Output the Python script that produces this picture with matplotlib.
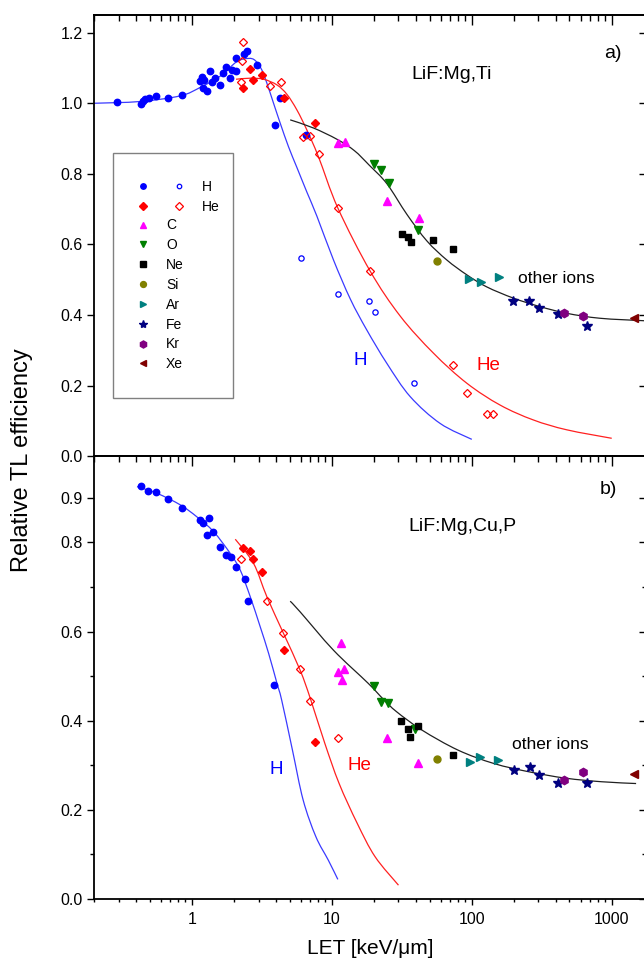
import matplotlib
matplotlib.use("Agg")
import numpy as np
import matplotlib.pyplot as plt
from matplotlib.patches import Rectangle, PathPatch
from matplotlib.path import Path
from matplotlib.legend_handler import HandlerTuple
from matplotlib.ticker import FuncFormatter, NullFormatter, FixedLocator

plt.rcParams['font.family'] = ['Liberation Sans', 'DejaVu Sans']

# ---------------- panel a) LiF:Mg,Ti ----------------
a_H_fill_x = [0.292, 0.436, 0.448, 0.466, 0.491, 0.557, 0.672, 0.851, 1.137, 1.183, 1.228, 1.194,
              1.284, 1.356, 1.394, 1.472, 1.580, 1.670, 1.755, 1.884, 1.937, 2.080, 2.069, 2.371,
              2.479, 2.923, 4.289, 3.902, 6.57]
a_H_fill_y = [1.003, 0.999, 1.005, 1.011, 1.016, 1.020, 1.016, 1.022, 1.063, 1.075, 1.066, 1.042,
              1.035, 1.090, 1.061, 1.071, 1.052, 1.085, 1.102, 1.071, 1.094, 1.090, 1.127, 1.139,
              1.149, 1.108, 1.016, 0.939, 0.910]
a_H_open_x = [6.03, 11.0, 18.4, 20.5, 38.8]
a_H_open_y = [0.563, 0.460, 0.440, 0.410, 0.208]
a_He_fill_x = [2.306, 2.617, 2.736, 3.172, 4.526, 7.62]
a_He_fill_y = [1.044, 1.097, 1.066, 1.080, 1.016, 0.945]
a_He_open_x = [2.322, 2.269, 2.257, 3.635, 4.358, 6.23, 6.94, 8.05, 11.07, 18.8, 73.4, 92.4, 128.4, 141.6]
a_He_open_y = [1.173, 1.121, 1.061, 1.049, 1.061, 0.905, 0.908, 0.856, 0.703, 0.525, 0.259, 0.180, 0.119, 0.119]
a_C_x = [11.07, 12.5, 25.0, 42.2]
a_C_y = [0.888, 0.891, 0.723, 0.676]
a_O_x = [19.9, 22.5, 25.6, 41.7]
a_O_y = [0.828, 0.811, 0.773, 0.641]
a_Ne_x = [31.7, 35.0, 36.8, 52.8, 74.1]
a_Ne_y = [0.630, 0.622, 0.608, 0.613, 0.586]
a_Si_x = [57.0]
a_Si_y = [0.553]
a_Ar_x = [96.4, 116.3, 157.1]
a_Ar_y = [0.501, 0.495, 0.509]
a_Fe_x = [199, 259, 304, 413, 665]
a_Fe_y = [0.440, 0.440, 0.419, 0.402, 0.370]
a_Kr_x = [458, 623]
a_Kr_y = [0.407, 0.398]
a_Xe_x = [1455]
a_Xe_y = [0.391]

a_fitH_x = [0.2, 0.429, 0.828, 1.150, 1.599, 2.10, 2.546, 2.842, 3.17, 3.44, 3.84, 4.29, 4.91,
            5.64, 6.65, 7.84, 10.3, 13.6, 17.8, 24.8, 36.4, 59.6, 100.3]
a_fitH_y = [1.000, 1.005, 1.021, 1.045, 1.077, 1.118, 1.127, 1.121, 1.094, 1.057, 1.000, 0.943, 0.877,
            0.818, 0.748, 0.680, 0.556, 0.445, 0.358, 0.263, 0.169, 0.093, 0.048]
a_fitHe_x = [2.07, 2.62, 3.26, 4.06, 4.79, 5.64, 6.65, 8.05, 11.07, 18.8, 30.9, 53.4, 92.4, 160, 276, 479, 1003]
a_fitHe_y = [1.068, 1.071, 1.068, 1.052, 1.025, 0.981, 0.924, 0.848, 0.703, 0.525, 0.397, 0.292, 0.207,
             0.145, 0.103, 0.075, 0.051]
a_fitIon_x = [5.05, 7.4, 10.9, 14.5, 18.5, 24.8, 34.5, 47.9, 66.5, 92.4, 128, 199, 308, 479, 827, 1708]
a_fitIon_y = [0.953, 0.930, 0.898, 0.866, 0.825, 0.772, 0.685, 0.610, 0.556, 0.514, 0.480, 0.448,
              0.424, 0.405, 0.391, 0.384]

# ---------------- panel b) LiF:Mg,Cu,P ----------------
b_H_fill_x = [0.436, 0.489, 0.557, 0.672, 0.851, 1.137, 1.194, 1.333, 1.408, 1.284, 1.580, 1.755,
              1.905, 2.069, 2.41, 2.52, 3.90]
b_H_fill_y = [0.926, 0.915, 0.913, 0.898, 0.878, 0.850, 0.843, 0.854, 0.823, 0.816, 0.789, 0.771,
              0.768, 0.745, 0.717, 0.668, 0.480]
b_He_fill_x = [2.306, 2.617, 2.736, 3.172, 4.526, 7.56]
b_He_fill_y = [0.788, 0.781, 0.762, 0.734, 0.558, 0.353]
b_He_open_x = [2.257, 3.44, 4.45, 5.89, 7.05, 11.06]
b_He_open_y = [0.762, 0.669, 0.597, 0.517, 0.445, 0.362]
b_C_x = [11.6, 11.07, 12.3, 11.8, 24.8, 41.6]
b_C_y = [0.575, 0.510, 0.515, 0.491, 0.362, 0.306]
b_O_x = [19.9, 22.5, 25.4, 39.2]
b_O_y = [0.478, 0.441, 0.439, 0.382]
b_Ne_x = [31.5, 35.3, 36.5, 41.1, 73.8]
b_Ne_y = [0.400, 0.382, 0.363, 0.388, 0.324]
b_Si_x = [56.9]
b_Si_y = [0.313]
b_Ar_x = [96.9, 115, 155]
b_Ar_y = [0.308, 0.319, 0.312]
b_Fe_x = [202, 260, 305, 413, 663]
b_Fe_y = [0.289, 0.296, 0.278, 0.261, 0.261]
b_Kr_x = [456, 625]
b_Kr_y = [0.267, 0.285]
b_Xe_x = [1448]
b_Xe_y = [0.280]

b_fitH_x = [0.406, 0.564, 0.828, 1.089, 1.431, 1.884, 2.218, 2.617, 3.08, 3.54, 4.06, 4.39, 5.24,
            6.25, 7.70, 9.46, 11.06]
b_fitH_y = [0.925, 0.910, 0.884, 0.857, 0.824, 0.775, 0.738, 0.678, 0.611, 0.551, 0.484, 0.446, 0.334,
            0.222, 0.140, 0.087, 0.044]
b_fitHe_x = [2.045, 2.76, 3.44, 4.52, 5.95, 7.03, 8.93, 11.3, 15.2, 20.4, 30.0]
b_fitHe_y = [0.807, 0.753, 0.678, 0.596, 0.513, 0.450, 0.349, 0.259, 0.170, 0.095, 0.031]
b_fitIon_x = [5.05, 5.95, 10.3, 18.2, 23.4, 29.1, 44.1, 79.9, 144, 260, 470, 851, 1498]
b_fitIon_y = [0.668, 0.644, 0.558, 0.484, 0.448, 0.420, 0.379, 0.334, 0.304, 0.285, 0.271, 0.263, 0.259]

x_major = [1, 10, 100, 1000]
a_yticks = [0.0, 0.2, 0.4, 0.6, 0.8, 1.0, 1.2]
b_yticks = [0.0, 0.2, 0.4, 0.6, 0.8, 0.9]
b_yminor = [0.1, 0.3, 0.5, 0.7]

ion_labels = ['C', 'O', 'Ne', 'Si', 'Ar', 'Fe', 'Kr', 'Xe']

# ---------------- styles ----------------
BLUE = '#0000ff'
RED = '#ff0000'
style = {
    'C': dict(marker='^', color='#ff00ff', ms=5.5),
    'O': dict(marker='v', color='#007f00', ms=5.5),
    'Ne': dict(marker='s', color='#000000', ms=4.3),
    'Si': dict(marker='o', color='#808000', ms=5.0),
    'Ar': dict(marker='>', color='#008080', ms=5.5),
    'Fe': dict(marker='*', color='#000080', ms=7.0),
    'Kr': dict(marker='h', color='#800080', ms=6.0),
    'Xe': dict(marker='<', color='#800000', ms=5.5),
}

W, H = 644, 969
fig = plt.figure(figsize=(W / 100, H / 100), dpi=100)
ax_a = fig.add_axes([94 / W, (H - 456.3) / H, 552 / W, 441.3 / H])
ax_b = fig.add_axes([94 / W, (H - 899) / H, 552 / W, 442.7 / H])

SP_LW = 1.3
TICKFS = 11.5


def smooth_curve(ax, xs, ys, **kw):
    """Draw a fitted curve through the read points as a smooth Bezier path
    (Catmull-Rom control points in log-x space; the axes scale does the mapping)."""
    u = np.log10(np.asarray(xs, float))
    v = np.asarray(ys, float)
    P = np.column_stack([u, v])
    Pe = np.vstack([P[0], P, P[-1]])
    verts = [P[0]]
    codes = [Path.MOVETO]
    for i in range(len(P) - 1):
        p0, p1, p2, p3 = Pe[i], Pe[i + 1], Pe[i + 2], Pe[i + 3]
        verts += [p1 + (p2 - p0) / 6.0, p2 - (p3 - p1) / 6.0, p2]
        codes += [Path.CURVE4] * 3
    verts = np.array(verts)
    verts[:, 0] = 10 ** verts[:, 0]
    ax.add_patch(PathPatch(Path(verts, codes), fill=False, transform=ax.transData, **kw))


def style_axes(ax, yticks, yminor, ylim, bottom_labels):
    ax.set_xscale('log')
    ax.set_xlim(0.2, 1763)
    ax.set_ylim(*ylim)
    for s in ax.spines.values():
        s.set_linewidth(SP_LW)
    ax.xaxis.set_major_locator(FixedLocator(x_major))
    ax.xaxis.set_major_formatter(FuncFormatter(lambda v, p: f'{v:g}'))
    ax.xaxis.set_minor_formatter(NullFormatter())
    ax.set_yticks(yticks)
    ax.set_yticks(yminor, minor=True)
    ax.yaxis.set_major_formatter(FuncFormatter(lambda v, p: f'{v:.1f}'))
    ax.tick_params(axis='y', which='major', direction='out', length=5, width=1.0,
                   labelsize=TICKFS, pad=3, right=False)
    ax.tick_params(axis='y', which='minor', direction='out', length=3, width=1.0, right=False)
    secy = ax.secondary_yaxis('right')
    secy.set_yticks(yticks)
    secy.set_yticks(yminor, minor=True)
    secy.tick_params(axis='y', which='major', direction='in', length=5, width=1.0, labelright=False)
    secy.tick_params(axis='y', which='minor', direction='in', length=3, width=1.0)
    secy.spines['right'].set_linewidth(SP_LW)
    if bottom_labels:
        ax.tick_params(axis='x', which='major', direction='out', length=4, width=1.0,
                       labelsize=TICKFS, pad=5, top=False)
        ax.tick_params(axis='x', which='minor', direction='out', length=2.2, width=1.0, top=False)
    else:
        ax.tick_params(axis='x', which='both', bottom=False, labelbottom=False, top=False)
    secx = ax.secondary_xaxis('top')
    secx.xaxis.set_major_locator(FixedLocator(x_major))
    secx.xaxis.set_major_formatter(NullFormatter())
    secx.xaxis.set_minor_formatter(NullFormatter())
    secx.tick_params(axis='x', which='major', direction='in', length=7, width=1.0, labeltop=False)
    secx.tick_params(axis='x', which='minor', direction='in', length=4, width=1.0)
    secx.spines['top'].set_linewidth(SP_LW)


def draw_panel(ax, d):
    smooth_curve(ax, *d['fitH'], edgecolor='#3a3aff', lw=0.9, zorder=2)
    smooth_curve(ax, *d['fitHe'], edgecolor='#ff2020', lw=0.9, zorder=2)
    smooth_curve(ax, *d['fitIon'], edgecolor='#202020', lw=0.9, zorder=2)
    h = {}
    h['Hf'], = ax.plot(d['Hf'][0], d['Hf'][1], ls='none', marker='o', color=BLUE, ms=4.6, zorder=3)
    h['Ho'], = ax.plot(d['Ho'][0], d['Ho'][1], ls='none', marker='o', mfc='none', mec=BLUE,
                       ms=3.8, mew=0.9, zorder=3)
    h['Hef'], = ax.plot(d['Hef'][0], d['Hef'][1], ls='none', marker='D', color=RED, ms=4.3, zorder=3)
    h['Heo'], = ax.plot(d['Heo'][0], d['Heo'][1], ls='none', marker='D', mfc='none', mec=RED,
                        ms=4.3, mew=0.9, zorder=3)
    for k in ion_labels:
        h[k], = ax.plot(d[k][0], d[k][1], ls='none', zorder=3, **style[k])
    return h


data_a = {'fitH': (a_fitH_x, a_fitH_y), 'fitHe': (a_fitHe_x, a_fitHe_y), 'fitIon': (a_fitIon_x, a_fitIon_y),
          'Hf': (a_H_fill_x, a_H_fill_y), 'Ho': (a_H_open_x, a_H_open_y),
          'Hef': (a_He_fill_x, a_He_fill_y), 'Heo': (a_He_open_x, a_He_open_y),
          'C': (a_C_x, a_C_y), 'O': (a_O_x, a_O_y), 'Ne': (a_Ne_x, a_Ne_y), 'Si': (a_Si_x, a_Si_y),
          'Ar': (a_Ar_x, a_Ar_y), 'Fe': (a_Fe_x, a_Fe_y), 'Kr': (a_Kr_x, a_Kr_y), 'Xe': (a_Xe_x, a_Xe_y)}
data_b = {'fitH': (b_fitH_x, b_fitH_y), 'fitHe': (b_fitHe_x, b_fitHe_y), 'fitIon': (b_fitIon_x, b_fitIon_y),
          'Hf': (b_H_fill_x, b_H_fill_y), 'Ho': ([], []),
          'Hef': (b_He_fill_x, b_He_fill_y), 'Heo': (b_He_open_x, b_He_open_y),
          'C': (b_C_x, b_C_y), 'O': (b_O_x, b_O_y), 'Ne': (b_Ne_x, b_Ne_y), 'Si': (b_Si_x, b_Si_y),
          'Ar': (b_Ar_x, b_Ar_y), 'Fe': (b_Fe_x, b_Fe_y), 'Kr': (b_Kr_x, b_Kr_y), 'Xe': (b_Xe_x, b_Xe_y)}

style_axes(ax_a, a_yticks, [], (0, 1.25), False)
style_axes(ax_b, b_yticks, b_yminor, (0, 0.993), True)
ha = draw_panel(ax_a, data_a)
draw_panel(ax_b, data_b)

# ---------------- legend (panel a) ----------------
LEG_FS = 10
ax_a.add_patch(Rectangle((0.035, 0.1314), 0.2174, 0.5565, transform=ax_a.transAxes,
                         facecolor='white', edgecolor='#808080', lw=1.0, zorder=1.5))
common = dict(loc='center left', frameon=False, borderpad=0, borderaxespad=0,
              handletextpad=0.35, labelspacing=0.42, fontsize=LEG_FS, markerscale=0.85)
leg1 = ax_a.legend(handles=[(ha['Hf'], ha['Ho']), (ha['Hef'], ha['Heo'])], labels=['H', 'He'],
                   handler_map={tuple: HandlerTuple(ndivide=None, pad=0)},
                   bbox_to_anchor=(0.0571, 0.588), handlelength=5.14, **common)
ax_a.add_artist(leg1)
ax_a.legend(handles=[ha[k] for k in ion_labels], labels=ion_labels,
            bbox_to_anchor=(0.0571, 0.3657), handlelength=2.57, **common)

# ---------------- annotations ----------------
ax_a.text(0.9408, 0.9132, 'a)', transform=ax_a.transAxes, fontsize=14, ha='center', va='center')
ax_a.text(0.648, 0.866, 'LiF:Mg,Ti', transform=ax_a.transAxes, fontsize=14, ha='center', va='center')
ax_a.text(0.838, 0.403, 'other ions', transform=ax_a.transAxes, fontsize=12.5, ha='center', va='center')
ax_a.text(0.482, 0.218, 'H', transform=ax_a.transAxes, fontsize=13.5, color=BLUE, ha='center', va='center')
ax_a.text(0.714, 0.205, 'He', transform=ax_a.transAxes, fontsize=13.5, color=RED, ha='center', va='center')

ax_b.text(0.932, 0.925, 'b)', transform=ax_b.transAxes, fontsize=14, ha='center', va='center')
ax_b.text(0.668, 0.842, 'LiF:Mg,Cu,P', transform=ax_b.transAxes, fontsize=14, ha='center', va='center')
ax_b.text(0.827, 0.350, 'other ions', transform=ax_b.transAxes, fontsize=12.5, ha='center', va='center')
ax_b.text(0.330, 0.293, 'H', transform=ax_b.transAxes, fontsize=13.5, color=BLUE, ha='center', va='center')
ax_b.text(0.480, 0.301, 'He', transform=ax_b.transAxes, fontsize=13.5, color=RED, ha='center', va='center')

fig.text(370 / W, 1 - 948 / H, 'LET [keV/\u03bcm]', fontsize=15, ha='center', va='center')
fig.text(22 / W, 1 - 460 / H, 'Relative TL efficiency', fontsize=17, rotation=90,
         ha='center', va='center', family=['Liberation Sans Narrow', 'Liberation Sans', 'DejaVu Sans'])

fig.savefig('out.png', dpi=100)
